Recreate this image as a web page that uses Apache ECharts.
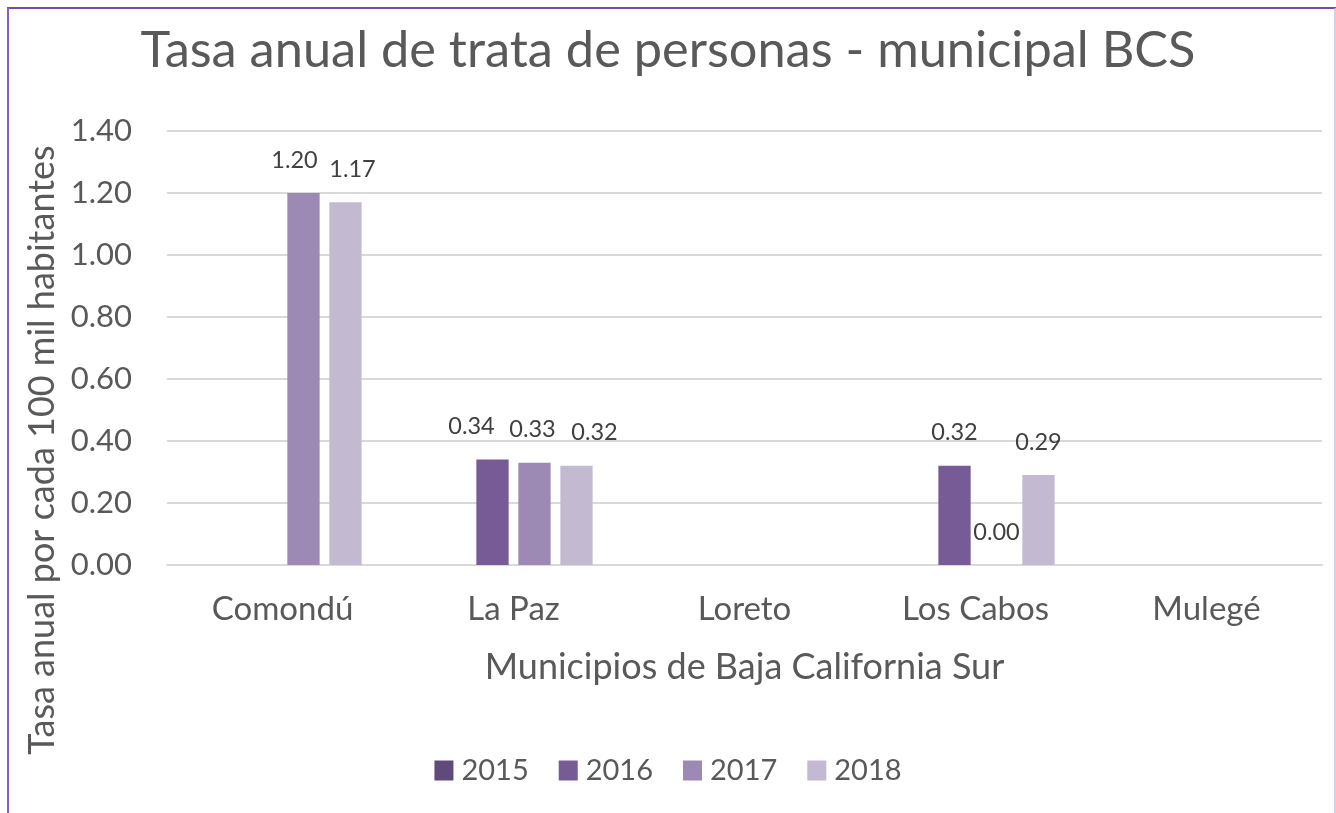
<!DOCTYPE html>
<html>
<head>
<meta charset="utf-8">
<script src="https://cdn.jsdelivr.net/npm/echarts@6/dist/echarts.min.js"></script>
<style>
  html, body { margin: 0; padding: 0; background: #ffffff; }
  #chart { width: 1336px; height: 813px; }
</style>
</head>
<body>
<div id="chart"></div>
<script>
// Municipalities of Baja California Sur
const categories = ['Comondú', 'La Paz', 'Loreto', 'Los Cabos', 'Mulegé'];
const years = ['2015', '2016', '2017', '2018'];

// Annual rate per 100k inhabitants (null = no value reported)
const values2015 = [null, null, null, null, null];
const values2016 = [null, 0.34, null, 0.32, null];
const values2017 = [1.20, 0.33, null, 0.00, null];
const values2018 = [1.17, 0.32, null, 0.29, null];

const yTicks = [0, 0.2, 0.4, 0.6, 0.8, 1.0, 1.2, 1.4];

const colors = ['#604a7b', '#775b96', '#9c89b4', '#c3b9d1'];
const seriesValues = [values2015, values2016, values2017, values2018];

// Horizontal nudges for value labels that would otherwise crowd each other
const labelNudge = {
  '2017|0': -9, '2018|0': 7,
  '2016|1': -21, '2017|1': -2, '2018|1': 18
};

const FONT = 'Lato, "Open Sans", sans-serif';

const series = years.map((yr, si) => ({
  name: yr,
  type: 'bar',
  barGap: '30%',
  barCategoryGap: '31.5%',
  itemStyle: { color: colors[si] },
  data: seriesValues[si].map((v, ci) => {
    if (v === null) return null;
    const dx = labelNudge[yr + '|' + ci] || 0;
    return { value: v, label: { offset: [dx, 0] } };
  }),
  label: {
    show: true,
    position: 'top',
    distance: 21,
    color: '#404040',
    fontFamily: FONT,
    fontSize: 23.5,
    formatter: p => p.value.toFixed(2)
  }
}));

const chart = echarts.init(document.getElementById('chart'), null, { renderer: 'canvas' });
chart.setOption({
  animation: false,
  backgroundColor: '#ffffff',
  title: {
    text: 'Tasa anual de trata de personas - municipal BCS',
    left: 'center',
    top: 20,
    textStyle: { color: '#595959', fontFamily: FONT, fontWeight: 'normal', fontSize: 50.5 }
  },
  legend: {
    data: years,
    top: 751,
    left: 'center',
    icon: 'rect',
    itemWidth: 19,
    itemHeight: 20,
    itemGap: 30,
    textStyle: { color: '#595959', fontFamily: FONT, fontSize: 29, padding: [0, 0, 0, 3] }
  },
  grid: { left: 167, right: 14, top: 131, bottom: 248, containLabel: false },
  xAxis: {
    type: 'category',
    data: categories,
    name: 'Municipios de Baja California Sur',
    nameLocation: 'middle',
    nameGap: 84,
    nameTextStyle: { color: '#595959', fontFamily: FONT, fontSize: 36 },
    axisLine: { show: true, lineStyle: { color: '#d9d9d9', width: 2 } },
    axisTick: { show: false },
    axisLabel: { color: '#595959', fontFamily: FONT, fontSize: 33, margin: 28 }
  },
  yAxis: {
    type: 'value',
    min: yTicks[0],
    max: yTicks[yTicks.length - 1],
    interval: 0.2,
    axisLine: { show: false },
    axisTick: { show: false },
    splitLine: { lineStyle: { color: '#d9d9d9', width: 2 } },
    axisLabel: {
      color: '#595959', fontFamily: FONT, fontSize: 31, margin: 35,
      formatter: v => v.toFixed(2)
    }
  },
  graphic: [
    {
      type: 'text',
      x: 42, y: 450,
      rotation: Math.PI / 2,
      style: {
        text: 'Tasa anual por cada 100 mil habitantes',
        fill: '#595959',
        font: '36px ' + FONT,
        textAlign: 'center',
        textVerticalAlign: 'middle'
      }
    },
    // chart frame
    { type: 'line', shape: { x1: 7, y1: 8, x2: 1336, y2: 8 }, style: { stroke: '#7a45ad', lineWidth: 2 } },
    { type: 'line', shape: { x1: 8, y1: 8, x2: 8, y2: 813 }, style: { stroke: '#8a5cba', lineWidth: 2 } },
    { type: 'line', shape: { x1: 1335, y1: 8, x2: 1335, y2: 813 }, style: { stroke: '#cdbde0', lineWidth: 1.5 } }
  ],
  series: series
});
</script>
</body>
</html>
